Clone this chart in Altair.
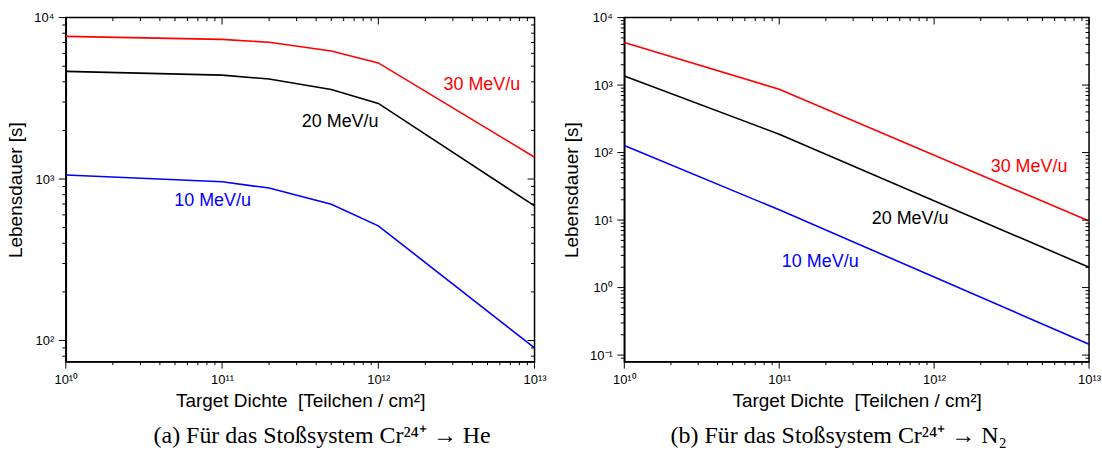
import altair as alt
import pandas as pd

# ---------------- data ----------------
energies = ["10 MeV/u", "20 MeV/u", "30 MeV/u"]
colors = ["#0000ff", "#000000", "#ff0000"]

# (a) Cr24+ -> He
he_density = [1e10, 1e11, 2e11, 5e11, 1e12, 1e13]
he_10 = [1059, 962, 879, 697, 513, 90]
he_20 = [4640, 4400, 4160, 3590, 2940, 682]
he_30 = [7650, 7330, 7030, 6210, 5240, 1365]
he_label_x = [8.7e10, 5.7e11, 4.6e12]
he_label_y = [730, 2260, 3835]

# (b) Cr24+ -> N2
n2_density = [1e10, 1e11, 1e13]
n2_10 = [127, 14.2, 0.145]
n2_20 = [1367, 187, 2.0]
n2_30 = [4270, 867, 9.7]
n2_label_x = [1.84e11, 7.0e11, 4.1e12]
n2_label_y = [2.4, 10.2, 61]

# axis ticks
x_major = [1e10, 1e11, 1e12, 1e13]
x_minor = [m * 10.0 ** e for e in range(10, 13) for m in range(2, 10)]
he_y_major = [1e2, 1e3, 1e4]
he_y_minor = [80, 90] + [m * 10.0 ** e for e in (2, 3) for m in range(2, 10)]
n2_y_major = [0.1, 1, 10, 100, 1e3, 1e4]
n2_y_minor = [0.09] + [m * 10.0 ** e for e in range(-1, 4) for m in range(2, 10)]

x_title = "Target Dichte\u00a0 [Teilchen / cm²]"
y_title = "Lebensdauer [s]"
cap_a = "(a) Für das Stoßsystem Cr²⁴⁺ → He"
cap_b = "(b) Für das Stoßsystem Cr²⁴⁺ → N₂"

# ---------------- helpers ----------------
E = "round(log(datum.value)/LN10)"
SUP = "'⁰¹²³⁴⁵⁶⁷⁸⁹'"
LABEL = (
    f"'10' + ({E} < 0 ? '⁻' : '') + "
    f"(abs({E}) >= 10 ? substring({SUP}, floor(abs({E})/10), floor(abs({E})/10)+1) : '') + "
    f"substring({SUP}, abs({E})%10, abs({E})%10+1)"
)
FONT = "Liberation Sans"
MAJ_LEN = 7
MIN_LEN = 3.5


def panel(density, series, lx, ly, ydom, ymaj, ymin, w, h, caption, cap_dx):
    rows = []
    for name, vals in zip(energies, series):
        for d, v in zip(density, vals):
            rows.append({"density": d, "lifetime": v, "energy": name})
    df = pd.DataFrame(rows)
    lab = pd.DataFrame({"density": lx, "lifetime": ly, "energy": energies})

    xs = alt.Scale(type="log", domain=[1e10, 1e13], nice=False)
    ys = alt.Scale(type="log", domain=ydom, nice=False)
    col = alt.Color("energy:N", scale=alt.Scale(domain=energies, range=colors), legend=None)

    x_axis = alt.Axis(orient="bottom", values=x_major, labelExpr=LABEL, ticks=False, tickSize=0,
                      labelPadding=MAJ_LEN + 5, labelFlush=False, labelOverlap=False,
                      grid=False, title=x_title, titlePadding=5)
    y_axis = alt.Axis(orient="left", values=ymaj, labelExpr=LABEL, ticks=False, tickSize=0,
                      labelPadding=MAJ_LEN + 5, labelFlush=False, labelOverlap=False,
                      grid=False, title=y_title, titlePadding=8)
    X = alt.X("density:Q", scale=xs, axis=x_axis)
    Y = alt.Y("lifetime:Q", scale=ys, axis=y_axis)

    lines = alt.Chart(df).mark_line(strokeWidth=1.6, clip=True).encode(
        x=X, y=Y, color=col, detail="energy:N",
    )
    texts = alt.Chart(lab).mark_text(fontSize=18, font=FONT, align="center",
                                     baseline="middle").encode(
        x=X, y=Y, text="energy:N", color=col,
    )

    layers = [lines, texts]
    # tick marks on all four sides (outward on bottom/left, inward on top/right)
    for vals, ln in ((x_major, MAJ_LEN), (x_minor, MIN_LEN)):
        d = pd.DataFrame({"density": vals})
        base = alt.Chart(d).mark_rule(color="black", strokeWidth=1)
        layers.append(base.encode(x=X, y=alt.value(h), y2=alt.value(h + ln)))
        layers.append(base.encode(x=X, y=alt.value(0), y2=alt.value(ln)))
    for vals, ln in ((ymaj, MAJ_LEN), (ymin, MIN_LEN)):
        d = pd.DataFrame({"lifetime": vals})
        base = alt.Chart(d).mark_rule(color="black", strokeWidth=1)
        layers.append(base.encode(y=Y, x=alt.value(0), x2=alt.value(-ln)))
        layers.append(base.encode(y=Y, x=alt.value(w), x2=alt.value(w - ln)))

    return alt.layer(*layers).properties(
        width=w, height=h,
        title=alt.TitleParams(text=caption, orient="bottom", anchor="middle", frame="group",
                              font="Liberation Serif", fontSize=24, fontWeight="normal",
                              color="black", offset=14, dx=cap_dx),
    )


left = panel(he_density, [he_10, he_20, he_30], he_label_x, he_label_y, [74, 1e4],
             he_y_major, he_y_minor, 470, 345, cap_a, 22)
right = panel(n2_density, [n2_10, n2_20, n2_30], n2_label_x, n2_label_y, [0.08, 1e4],
              n2_y_major, n2_y_minor, 466, 345, cap_b, -18)

chart = alt.hconcat(left, right, spacing=14).properties(
    padding={"left": 6, "top": 10, "right": 0, "bottom": 0},
    background="white",
).configure_view(stroke="black", strokeWidth=1.5).configure_axis(
    labelFont=FONT, titleFont=FONT, labelFontSize=13, titleFontSize=19,
    titleFontWeight="normal", labelColor="black", titleColor="black",
    domainColor="black", domainWidth=1.5,
)

chart.save("out.html", embed_options={"renderer": "svg", "actions": False})
